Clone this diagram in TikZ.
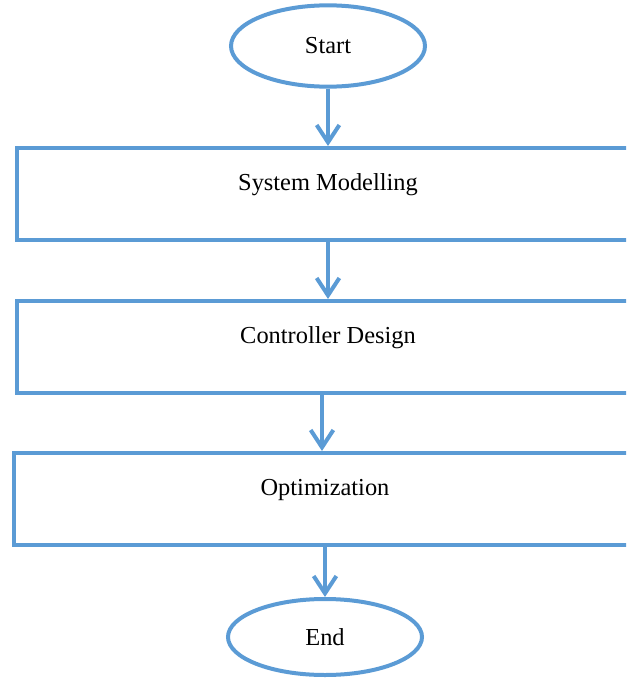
\documentclass[tikz,border=0pt]{standalone}
\usepackage{fontspec}
\setmainfont{Liberation Serif}
\usetikzlibrary{shapes.geometric,arrows.meta}

\definecolor{flowblue}{RGB}{91,155,213}

\tikzset{
  flowline/.style={draw=flowblue, line width=3pt, -{Straight Barb[length=13pt,width=17pt]}},
  termnode/.style={ellipse, draw=flowblue, line width=3pt, inner sep=0pt,
                   minimum width=145.5pt, minimum height=61pt},
  stepbox/.style={rectangle, draw=flowblue, line width=3pt, inner sep=0pt,
                  minimum width=466.5pt, minimum height=69pt},
  steptext/.style={anchor=base, inner sep=0pt}
}

\begin{document}
\begin{tikzpicture}[x=0.75pt, y=-0.75pt, font=\fontsize{18.3}{22}\selectfont]
                \useasboundingbox (0,0) rectangle (626,678);
                \clip (0,0) rectangle (626,678);

                %% start / end
                \node[termnode] (start) at (328,46) {Start};
                \node[termnode, minimum height=57pt] (stop) at (325,637) {End};

                %% steps
                \node[stepbox] (model)  at (328,194) {};
                \node[stepbox] (design) at (328,347) {};
                \node[stepbox] (optim)  at (325,499) {};

                \node[steptext] (modeltext)  at ([yshift=2.5pt]model.center)  {System Modelling};
                \node[steptext] (designtext) at ([yshift=2.5pt]design.center) {Controller Design};
                \node[steptext] (optimtext)  at ([yshift=2.5pt]optim.center)  {Optimization};

                %% arrows
                \draw[flowline] (start.south -| model) -- (model.north);
                \draw[flowline] (model.south) -- (design.north);
                \draw[flowline] ([xshift=-4.5pt]design.south) -- ([xshift=-4.5pt]design.south |- optim.north);
                \draw[flowline] (optim.south -| stop) -- (stop.north);

            \end{tikzpicture}
\end{document}
